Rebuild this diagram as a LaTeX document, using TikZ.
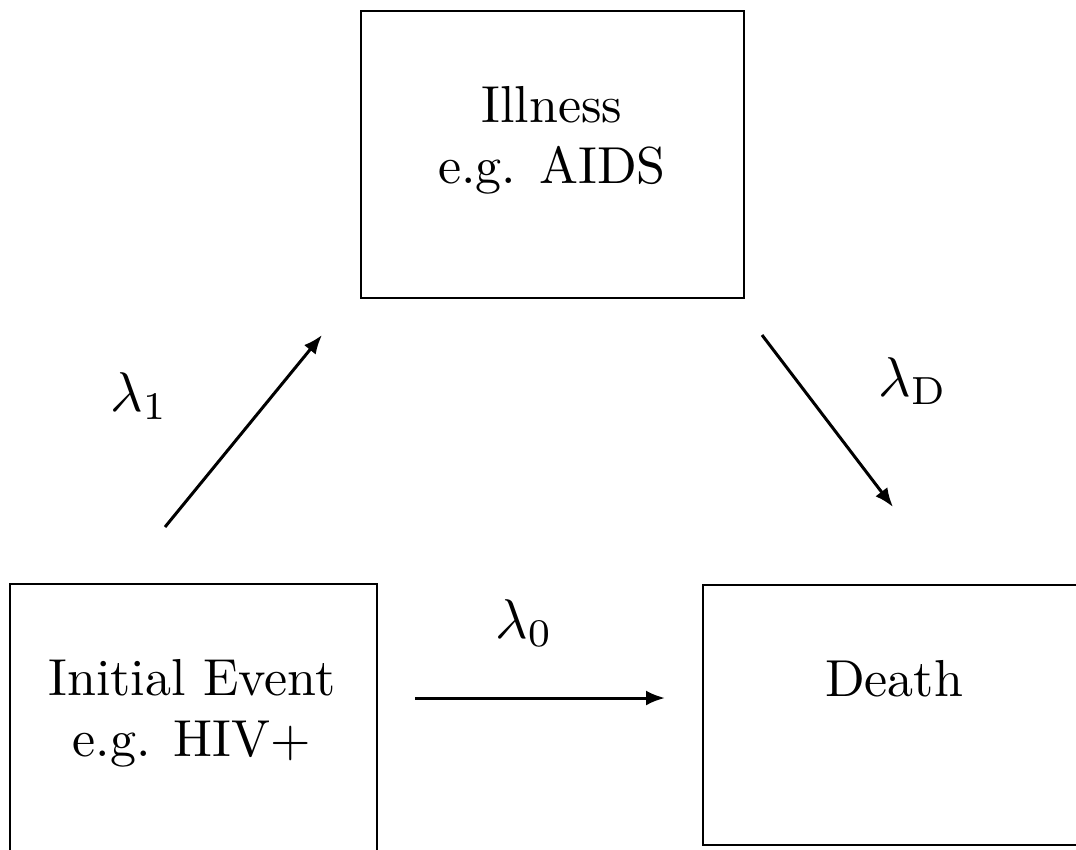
\documentclass[tikz,border=0pt]{standalone}
\usepackage{graphicx}
\usetikzlibrary{arrows.meta}
\newcommand{\widetxt}[1]{\scalebox{5.2}{\fontsize{10}{11.9}\selectfont\begin{tabular}[t]{@{}c@{}}#1\end{tabular}}}
\newcommand{\ratetxt}[1]{\scalebox{5.6}{\fontsize{10}{12}\selectfont$#1$}}
\tikzset{
  statebox/.style={draw=black, line width=2.8pt, inner sep=0pt, outer sep=0pt},
  boxtext/.style={anchor=base, inner sep=0pt},
  ratelbl/.style={anchor=base west, inner sep=0pt},
  trans/.style={line width=3pt, -{Latex[length=19pt,width=15pt]}}
}
\begin{document}
\begin{tikzpicture}[x=1pt,y=-1pt]
\useasboundingbox (0,0) rectangle (1076,849);
\clip (0,0) rectangle (1076,849);
% boxes
\node[statebox, minimum width=383pt, minimum height=287pt] (ill) at (552.5,154.5) {};
\node[statebox, minimum width=367pt, minimum height=300pt] (init) at (193.5,734) {};
\node[statebox, minimum width=382pt, minimum height=260pt] (death) at (894,715) {};
% texts
\node[boxtext] (illtxt) at (552,122) {\widetxt{Illness\\e.g. AIDS}};
\node[boxtext] (inittxt) at (192,695) {\widetxt{Initial Event\\e.g. HIV+}};
\node[boxtext] (deathtxt) at (894,696) {\widetxt{Death}};
% arrow ends
\coordinate (a1s) at (165,527);
\coordinate (a1e) at (322,335);
\coordinate (aDs) at (762,335);
\coordinate (aDe) at (893,507);
\coordinate (a0s) at (415,698);
\coordinate (a0e) at (665,698);
\draw[trans] (a1s) -- (a1e);
\draw[trans] (aDs) -- (aDe);
\draw[trans] (a0s) -- (a0e);
% rate labels
\node[ratelbl] (l1) at (110,411) {\ratetxt{\lambda_1}};
\node[ratelbl] (lD) at (878,396) {\ratetxt{\lambda_{\mathrm{D}}}};
\node[ratelbl] (l0) at (495,638) {\ratetxt{\lambda_0}};
\end{tikzpicture}
\end{document}
